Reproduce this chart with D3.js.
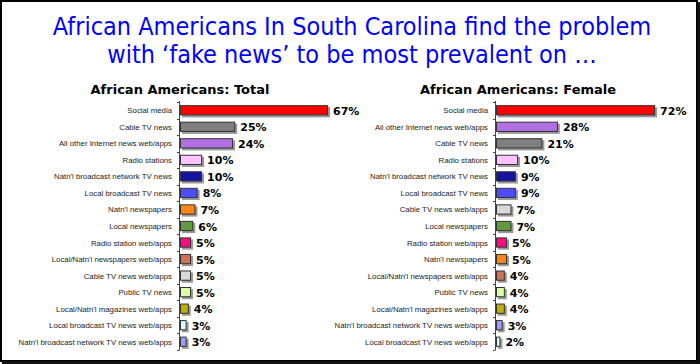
<!DOCTYPE html>
<html>
<head>
<meta charset="utf-8">
<script src="https://cdn.jsdelivr.net/npm/d3@7"></script>
<style>
  body { margin: 0; background: #fff; }
  svg { display: block; }
  .title { font-family: Tahoma, "DejaVu Sans Condensed", "Liberation Sans", sans-serif; fill: #0000ff; }
  .sub { font-family: "DejaVu Sans", Verdana, sans-serif; font-weight: bold; font-size: 13px; fill: #000; }
  .cat { font-family: "Liberation Sans", Arial, sans-serif; font-size: 7.8px; fill: #222; }
  .val { font-family: "DejaVu Sans", Verdana, sans-serif; font-weight: bold; font-size: 11px; fill: #000; }
</style>
</head>
<body>
<script>
// categories / values for each panel
var totalCats = ["Social media", "Cable TV news", "All other Internet news web/apps", "Radio stations",
  "Natn'l broadcast network TV news", "Local broadcast TV news", "Natn'l newspapers", "Local newspapers",
  "Radio station web/apps", "Local/Natn'l newspapers web/apps", "Cable TV news web/apps", "Public TV news",
  "Local/Natn'l magazines web/apps", "Local broadcast TV news web/apps", "Natn'l broadcast network TV news web/apps"];
var totalVals = [67, 25, 24, 10, 10, 8, 7, 6, 5, 5, 5, 5, 4, 3, 3];

var femaleCats = ["Social media", "All other Internet news web/apps", "Cable TV news", "Radio stations",
  "Natn'l broadcast network TV news", "Local broadcast TV news", "Cable TV news web/apps", "Local newspapers",
  "Radio station web/apps", "Natn'l newspapers", "Local/Natn'l newspapers web/apps", "Public TV news",
  "Local/Natn'l magazines web/apps", "Natn'l broadcast network TV news web/apps", "Local broadcast TV news web/apps"];
var femaleVals = [72, 28, 21, 10, 9, 9, 7, 7, 5, 5, 4, 4, 4, 3, 2];

var titleLines = ["African Americans In South Carolina find the problem",
  "with \u2018fake news\u2019 to be most prevalent on \u2026"];
var panelTitles = ["African Americans: Total", "African Americans: Female"];

// colour per category (same in both panels)
var color = d3.scaleOrdinal()
  .domain(totalCats)
  .range(["#ff0000", "#7f7f7f", "#b370e3", "#ffc4ff", "#14149c", "#4d4dff", "#ff8419", "#5e9a3e",
    "#ff0a80", "#cf7152", "#d9d9d9", "#ddffa3", "#bfb000", "#d9ffff", "#9c9cff"]);

var width = 700, height = 364;
var svg = d3.select("body").append("svg").attr("width", width).attr("height", height);

svg.append("rect").attr("x", 0).attr("y", 0).attr("width", width).attr("height", height).attr("fill", "#fff");
// frame
svg.append("rect").attr("x", 1).attr("y", 1).attr("width", 696).attr("height", 360)
  .attr("fill", "none").attr("stroke", "#000").attr("stroke-width", 2);
svg.append("rect").attr("x", 697).attr("y", 2).attr("width", 3).attr("height", 362).attr("fill", "#111");
svg.append("rect").attr("x", 2).attr("y", 361).attr("width", 698).attr("height", 3).attr("fill", "#111");

svg.selectAll(".title").data(titleLines).enter().append("text")
  .attr("class", "title")
  .attr("x", 352).attr("y", (d, i) => 35 + i * 28)
  .attr("text-anchor", "middle")
  .attr("font-size", 25)
  .text(d => d);

var x = d3.scaleLinear().domain([0, 100]).range([0, 221]);

function panel(axisX, subX, cats, vals, title) {
  var data = cats.map((c, i) => ({ name: c, value: vals[i] }));
  var y = d3.scaleBand().domain(cats).range([102, 350]).paddingInner(0.38).paddingOuter(0.19);

  svg.append("text").attr("class", "sub").attr("x", subX).attr("y", 94)
    .attr("text-anchor", "middle").text(title);

  var g = svg.append("g").attr("transform", "translate(" + axisX + ",0)");

  // shadows
  g.selectAll(".shadow").data(data).enter().append("rect")
    .attr("x", 2).attr("y", d => y(d.name) + 2)
    .attr("width", d => x(d.value)).attr("height", y.bandwidth())
    .attr("fill", "#9a9a9a");

  g.selectAll(".bar").data(data).enter().append("rect")
    .attr("x", 0.5).attr("y", d => y(d.name) + 0.5)
    .attr("width", d => x(d.value) - 1).attr("height", y.bandwidth() - 1)
    .attr("fill", d => color(d.name))
    .attr("stroke", "#333").attr("stroke-width", 1);

  g.selectAll(".val").data(data).enter().append("text")
    .attr("class", "val")
    .attr("x", d => x(d.value) + 5)
    .attr("y", d => y(d.name) + y.bandwidth() / 2 + 4.5)
    .text(d => d.value + "%");

  g.selectAll(".cat").data(data).enter().append("text")
    .attr("class", "cat")
    .attr("x", -8)
    .attr("y", d => y(d.name) + y.bandwidth() / 2 + 3)
    .attr("text-anchor", "end")
    .text(d => d.name);

  // axis line with ticks between rows
  var step = y.step();
  var edges = d3.range(cats.length + 1).map(i => 102 + i * step);
  g.append("line").attr("x1", -0.5).attr("x2", -0.5).attr("y1", 101).attr("y2", 350)
    .attr("stroke", "#444").attr("stroke-width", 1);
  g.selectAll(".tk").data(edges).enter().append("line")
    .attr("x1", -3).attr("x2", -0.5)
    .attr("y1", d => Math.round(d) + 0.5).attr("y2", d => Math.round(d) + 0.5)
    .attr("stroke", "#444");
}

panel(180, 180, totalCats, totalVals, panelTitles[0]);
panel(496, 518, femaleCats, femaleVals, panelTitles[1]);
</script>
</body>
</html>
